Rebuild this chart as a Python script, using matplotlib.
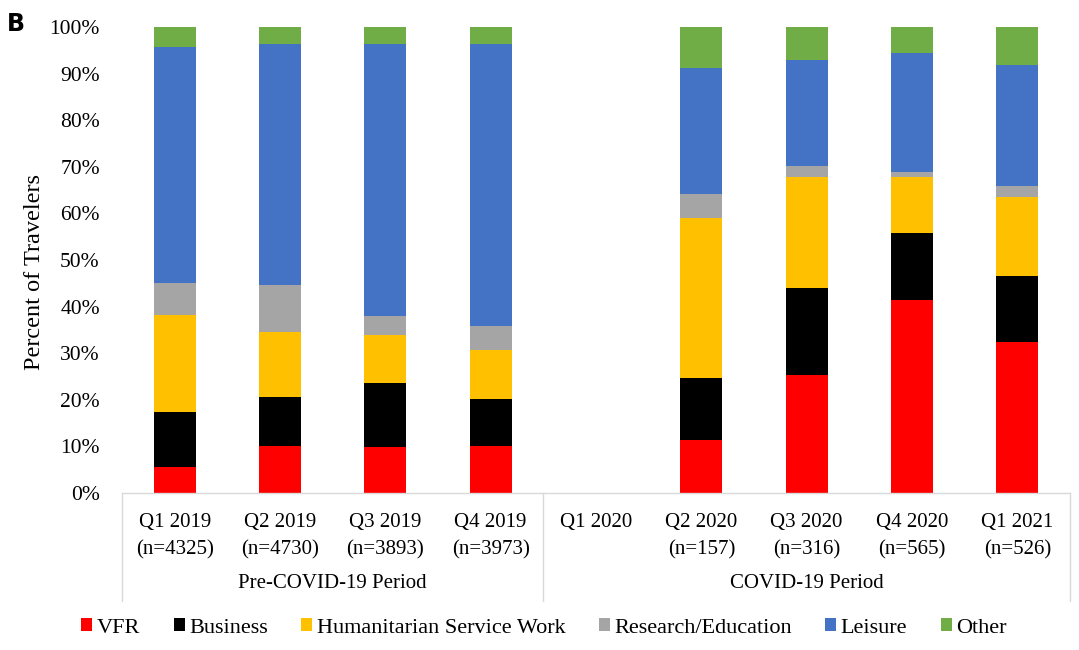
import matplotlib
matplotlib.use("Agg")
import matplotlib.pyplot as plt
import matplotlib.transforms as mtransforms
from matplotlib.patches import Patch
import numpy as np

plt.rcParams['font.family'] = ['Liberation Serif', 'DejaVu Serif']

quarters = ["Q1 2019", "Q2 2019", "Q3 2019", "Q4 2019",
            "Q1 2020", "Q2 2020", "Q3 2020", "Q4 2020", "Q1 2021"]
sample_sizes = ["(n=4325)", "(n=4730)", "(n=3893)", "(n=3973)",
                "", "(n=157)", "(n=316)", "(n=565)", "(n=526)"]
periods = ["Pre-COVID-19 Period", "COVID-19 Period"]
period_spans = [(0, 3), (4, 8)]

categories = ["VFR", "Business", "Humanitarian Service Work",
              "Research/Education", "Leisure", "Other"]
colors = ["#ff0000", "#000000", "#ffc000", "#a5a5a5", "#4472c4", "#70ad47"]

vfr = [5.6, 10.1, 9.9, 10.1, 0, 11.4, 25.4, 41.4, 32.3]
business = [11.8, 10.5, 13.6, 10.0, 0, 13.3, 18.5, 14.4, 14.2]
humanitarian = [20.9, 13.9, 10.3, 10.5, 0, 34.4, 23.9, 12.0, 17.0]
research = [6.8, 10.1, 4.2, 5.2, 0, 5.0, 2.3, 1.0, 2.4]
leisure = [50.6, 51.8, 58.4, 60.6, 0, 27.1, 22.8, 25.6, 25.9]
other = [4.3, 3.6, 3.6, 3.6, 0, 8.8, 7.1, 5.6, 8.2]

series = [vfr, business, humanitarian, research, leisure, other]

fig = plt.figure(figsize=(10.79, 6.5), dpi=100)
ax = fig.add_axes([122 / 1079, 1 - 493 / 650, (1070 - 122) / 1079, 466 / 650])

x = np.arange(len(quarters))
bottom = np.zeros(len(quarters))
for vals, col in zip(series, colors):
    vals = np.array(vals, dtype=float)
    ax.bar(x, vals, width=0.4, bottom=bottom, color=col, linewidth=0)
    bottom += vals

ax.set_xlim(-0.5, len(quarters) - 0.5)
ax.set_ylim(0, 100)
ax.set_yticks(np.arange(0, 101, 10))
ax.set_yticklabels([f"{v}%" for v in range(0, 101, 10)], fontsize=15.5)
ax.tick_params(axis='y', length=0, pad=16)
ax.set_xticks([])
for side in ["top", "right", "left"]:
    ax.spines[side].set_visible(False)
ax.spines["bottom"].set_color("#d9d9d9")
ax.spines["bottom"].set_linewidth(1.0)

fig.text(35 / 1079, 1 - 272 / 650, "Percent of Travelers", rotation=90,
         fontsize=17.5, ha="center", va="center")

# Two-level category axis
trans = mtransforms.blended_transform_factory(ax.transData, ax.transAxes)
px = 1 / 466
for xi, (q, n) in enumerate(zip(quarters, sample_sizes)):
    ax.text(xi, -29 * px, q, transform=trans, ha="center", va="center", fontsize=15)
    if n:
        ax.text(xi, -57 * px, n, transform=trans, ha="center", va="center", fontsize=15)
for label, (a, b) in zip(periods, period_spans):
    ax.text((a + b) / 2, -90 * px, label, transform=trans, ha="center",
            va="center", fontsize=15)
for xb in [-0.5, 3.5, len(quarters) - 0.5]:
    ax.plot([xb, xb], [0, -108 * px], transform=trans, color="#d9d9d9",
            linewidth=1.0, clip_on=False)

handles = [Patch(facecolor=c, edgecolor="none", label=l) for c, l in zip(colors, categories)]
fig.legend(handles=handles, loc="center", bbox_to_anchor=(544 / 1079, 1 - 628 / 650),
           ncol=6, frameon=False, fontsize=16, handlelength=0.5, handleheight=0.5,
           handletextpad=0.2, columnspacing=1.5)

fig.text(7 / 1079, 1 - 24 / 650, "B", fontsize=17, fontweight="bold",
         family="DejaVu Sans", ha="left", va="center")

fig.savefig("out.png", dpi=100)
